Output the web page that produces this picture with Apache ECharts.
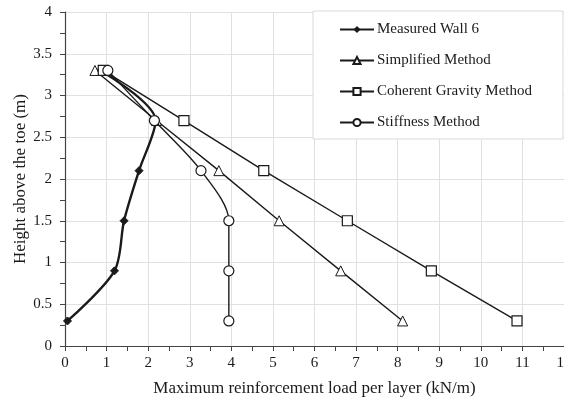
<!DOCTYPE html>
<html><head><meta charset="utf-8">
<script src="https://cdn.jsdelivr.net/npm/echarts@6/dist/echarts.min.js"></script>
<style>html,body{margin:0;padding:0;background:#fff}#c{width:564px;height:400px}</style>
</head><body><div id="c"></div>
<script>
const heights = [0.3, 0.9, 1.5, 2.1, 2.7, 3.3];
const measuredWall6 = [0.06, 1.19, 1.42, 1.78, 2.18, 0.85];
const simplifiedMethod = [8.12, 6.63, 5.15, 3.7, 2.2, 0.72];
const coherentGravity = [10.87, 8.81, 6.79, 4.78, 2.86, 0.92];
const stiffnessMethod = [3.94, 3.94, 3.94, 3.27, 2.15, 1.03];
const seriesNames = ['Measured Wall 6', 'Simplified Method', 'Coherent Gravity Method', 'Stiffness Method'];

const pairs = xs => xs.map((x, i) => [x, heights[i]]);
const font = 'Liberation Serif';
const ink = '#1a1a1a';

const chart = echarts.init(document.getElementById('c'), null, {renderer: 'canvas'});
chart.setOption({
  animation: false,
  backgroundColor: '#fff',
  textStyle: {fontFamily: font},
  grid: {left: 65, top: 12, right: 0, bottom: 54, containLabel: false, outerBoundsMode: 'none'},
  legend: {
    orient: 'vertical', left: 313, top: 11,
    padding: [11, 31, 9, 26], itemGap: 16,
    itemWidth: 34, itemHeight: 9,
    backgroundColor: '#fff', borderColor: '#d9d9d9', borderWidth: 1,
    textStyle: {fontFamily: font, fontSize: 15, lineHeight: 15, color: ink, padding: [0, 0, 0, -2]},
    data: seriesNames
  },
  xAxis: {
    type: 'value', min: 0, max: 12, interval: 1,
    name: 'Maximum reinforcement load per layer (kN/m)',
    nameLocation: 'middle', nameGap: 34, nameMoveOverlap: false,
    nameTextStyle: {fontFamily: font, fontSize: 17, color: ink},
    axisLine: {show: true, lineStyle: {color: '#444', width: 1.2}},
    axisTick: {show: true, inside: false, length: 5, lineStyle: {color: '#444'}},
    minorTick: {show: true, splitNumber: 2, length: 5, lineStyle: {color: '#444'}},
    axisLabel: {fontFamily: font, fontSize: 15, color: ink, margin: 10},
    splitLine: {show: true, lineStyle: {color: '#e0e0e0', width: 1}}
  },
  yAxis: {
    type: 'value', min: 0, max: 4, interval: 0.5,
    name: 'Height above the toe (m)',
    nameLocation: 'middle', nameGap: 36, nameMoveOverlap: false,
    nameTextStyle: {fontFamily: font, fontSize: 17, color: ink},
    axisLine: {show: true, lineStyle: {color: '#444', width: 1.2}},
    axisTick: {show: true, inside: false, length: 5, lineStyle: {color: '#444'}},
    minorTick: {show: true, splitNumber: 2, length: 5, lineStyle: {color: '#444'}},
    axisLabel: {fontFamily: font, fontSize: 15, color: ink, margin: 13},
    splitLine: {show: true, lineStyle: {color: '#e0e0e0', width: 1}}
  },
  series: [
    {
      name: seriesNames[0], type: 'line', data: pairs(measuredWall6), smooth: 0.3,
      symbol: 'diamond', symbolSize: 8, z: 2,
      lineStyle: {color: ink, width: 2.4},
      itemStyle: {color: ink, borderColor: ink}
    },
    {
      name: seriesNames[1], type: 'line', data: pairs(simplifiedMethod),
      symbol: 'triangle', symbolSize: 10, z: 3,
      lineStyle: {color: ink, width: 1.4},
      itemStyle: {color: '#fff', borderColor: ink, borderWidth: 1}
    },
    {
      name: seriesNames[2], type: 'line', data: pairs(coherentGravity),
      symbol: 'rect', symbolSize: 10, z: 3,
      lineStyle: {color: ink, width: 1.4},
      itemStyle: {color: '#fff', borderColor: ink, borderWidth: 1.2}
    },
    {
      name: seriesNames[3], type: 'line', data: pairs(stiffnessMethod), smooth: 0.3,
      symbol: 'circle', symbolSize: 10, z: 4,
      lineStyle: {color: ink, width: 1.4},
      itemStyle: {color: '#fff', borderColor: ink, borderWidth: 1.2}
    }
  ]
});
</script></body></html>
